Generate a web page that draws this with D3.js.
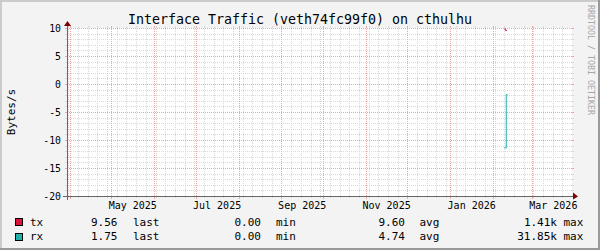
<!DOCTYPE html>
<html><head><meta charset="utf-8">
<script src="https://cdn.jsdelivr.net/npm/d3@7"></script>
<style>
html,body{margin:0;padding:0;background:#f3f3f3}
svg{display:block}
text{font-family:"DejaVu Sans Mono",monospace}
</style></head><body>
<svg id="c" width="600" height="250"></svg>
<script>
// --- data ---
const title = "Interface Traffic (veth74fc99f0) on cthulhu";
const yLabel = "Bytes/s";
const watermark = "RRDTOOL / TOBI OETIKER";
const timeRange = ["2025-03-30T00:00", "2026-03-30T00:00"];
const yRange = [-20, 10];
const yMajorStep = 5, yMinorStep = 1;
const seriesNames = ["tx", "rx"];
const seriesColors = ["#dc143c", "#20b2aa"];
const txData = [["2026-02-09T00:00", 9.82], ["2026-02-10T00:00", 9.56], ["2026-02-11T00:00", 9.56]];
const rxData = [["2026-02-09T00:00", -11.4], ["2026-02-10T12:00", -1.9], ["2026-02-11T12:00", -1.9]];
const legendLast = ["9.56", "1.75"];
const legendMin = ["0.00", "0.00"];
const legendAvg = ["9.60", "4.74"];
const legendMax = ["1.41k", "31.85k"];

const W = 600, H = 250;
const X0 = 67, X1 = 572, Y0 = 196, Y1 = 28;
const GRID = "#d8d8d8", MGRID = "#eea6a6", AXIS = "#666", ARROW = "#7f0000";

const parse = d3.timeParse("%Y-%m-%dT%H:%M");
const x = d3.scaleTime().domain(timeRange.map(parse)).range([X0, X1]);
const y = d3.scaleLinear().domain(yRange).range([Y0, Y1]);
const px = v => Math.round(v) + 0.5;

const svg = d3.select("#c");

// background + shaded frame
svg.append("rect").attr("width", W).attr("height", H).attr("fill", "#f3f3f3");
svg.append("path").attr("d", `M0,0H${W}V2H2V${H}H0Z`).attr("fill", "#cbcbcb");
svg.append("path").attr("d", `M${W},0V${H}H0V${H-2}H${W-2}V0Z`).attr("fill", "#999");
svg.append("rect").attr("x", X0).attr("y", Y1).attr("width", X1 - X0).attr("height", Y0 - Y1).attr("fill", "#fff");

const g = svg.append("g").attr("shape-rendering", "crispEdges");
const [t0, t1] = x.domain();

// vertical minor (weekly) + major (monthly)
const majors = d3.timeMonth.range(d3.timeMonth.ceil(t0), t1);
const majorSet = new Set(majors.map(d => Math.round(x(d))));
d3.timeMonday.range(t0, t1).filter(d => !majorSet.has(Math.round(x(d)))).forEach(d => {
  const xx = px(x(d));
  g.append("line").attr("x1", xx).attr("x2", xx).attr("y1", Y0 + 2).attr("y2", Y0).attr("stroke", GRID);
  g.append("line").attr("x1", xx).attr("x2", xx).attr("y1", Y1 - 2).attr("y2", Y1).attr("stroke", GRID);
  g.append("line").attr("x1", xx).attr("x2", xx).attr("y1", Y0).attr("y2", Y1).attr("stroke", GRID).attr("stroke-dasharray", "1,1");
});
// horizontal minor
d3.range(yRange[0], yRange[1] + 0.001, yMinorStep).filter(v => v % yMajorStep !== 0).forEach(v => {
  const yy = px(y(v));
  g.append("line").attr("x1", X0 - 2).attr("x2", X0).attr("y1", yy).attr("y2", yy).attr("stroke", GRID);
  g.append("line").attr("x1", X1).attr("x2", X1 + 2).attr("y1", yy).attr("y2", yy).attr("stroke", GRID);
  g.append("line").attr("x1", X0).attr("x2", X1).attr("y1", yy).attr("y2", yy).attr("stroke", GRID).attr("stroke-dasharray", "1,1");
});
// major
majors.forEach(d => {
  const xx = px(x(d));
  g.append("line").attr("x1", xx).attr("x2", xx).attr("y1", Y0 + 3).attr("y2", Y0).attr("stroke", MGRID);
  g.append("line").attr("x1", xx).attr("x2", xx).attr("y1", Y1 - 2).attr("y2", Y1).attr("stroke", MGRID);
  g.append("line").attr("x1", xx).attr("x2", xx).attr("y1", Y0).attr("y2", Y1).attr("stroke", MGRID).attr("stroke-dasharray", "1,1");
});
const yMajor = d3.range(yRange[0], yRange[1] + 0.001, yMajorStep);
yMajor.forEach(v => {
  const yy = px(y(v));
  g.append("line").attr("x1", X0 - 2).attr("x2", X0).attr("y1", yy).attr("y2", yy).attr("stroke", MGRID);
  g.append("line").attr("x1", X1).attr("x2", X1 + 2).attr("y1", yy).attr("y2", yy).attr("stroke", MGRID);
  g.append("line").attr("x1", X0).attr("x2", X1).attr("y1", yy).attr("y2", yy).attr("stroke", MGRID).attr("stroke-dasharray", "1,1");
});

// y labels
svg.append("g").selectAll("text").data(yMajor).join("text")
  .attr("x", 61).attr("y", d => y(d) + 3.6).attr("text-anchor", "end")
  .attr("font-size", "9.8px").attr("fill", "#000").text(d => d);

// x labels (every 2nd month, centred mid-month)
const fmt = d3.timeFormat("%b %Y");
svg.append("g").selectAll("text").data(d3.timeMonth.every(2).range(t0, t1)).join("text")
  .attr("x", d => (x(d) + x(d3.timeMonth.offset(d, 1))) / 2).attr("y", 208.5)
  .attr("text-anchor", "middle").attr("font-size", "10px").attr("fill", "#000").text(fmt);

// series
const line = d3.line().x(d => x(parse(d[0]))).y(d => y(d[1])).curve(d3.curveStepAfter);
[txData, rxData].forEach((s, i) => {
  svg.append("path").attr("d", line(s)).attr("fill", "none")
    .attr("stroke", seriesColors[i]).attr("stroke-width", 1);
});

// axes + arrows
g.append("line").attr("x1", X0 - 4).attr("x2", X1 + 4).attr("y1", px(Y0)).attr("y2", px(Y0)).attr("stroke", AXIS);
g.append("line").attr("x1", px(X0)).attr("x2", px(X0)).attr("y1", Y0 + 4).attr("y2", Y1 - 4).attr("stroke", AXIS);
svg.append("path").attr("d", `M${X1 + 1},${Y0 - 3.5}L${X1 + 1},${Y0 + 3.5}L${X1 + 6},${Y0 + 0.5}Z`).attr("fill", ARROW);
svg.append("path").attr("d", `M${X0 - 3},${Y1 - 2}L${X0 + 4},${Y1 - 2}L${X0 + 0.5},${Y1 - 7}Z`).attr("fill", ARROW);

// title, unit, watermark
svg.append("text").attr("x", 300).attr("y", 23.5).attr("text-anchor", "middle")
  .attr("font-size", "13.3px").attr("fill", "#000").text(title);
svg.append("text").attr("transform", "translate(15,112) rotate(-90)").attr("text-anchor", "middle")
  .attr("font-size", "11px").attr("fill", "#000").text(yLabel);
svg.append("text").attr("transform", "translate(588,5) rotate(90)")
  .attr("font-size", "8.3px").attr("fill", "#a6a6a6").text(watermark);

// legend
const rows = [225.5, 240];
seriesNames.forEach((name, i) => {
  const ry = rows[i];
  svg.append("rect").attr("x", 15.5).attr("y", ry - 7).attr("width", 7).attr("height", 7)
    .attr("fill", seriesColors[i]).attr("stroke", "#000").attr("shape-rendering", "crispEdges");
  const t = (xx, s, anchor) => svg.append("text").attr("x", xx).attr("y", ry)
    .attr("text-anchor", anchor).attr("font-size", "11px").attr("fill", "#000").text(s);
  t(30, name, "start");
  t(117.5, legendLast[i], "end"); t(133, "last", "start");
  t(261, legendMin[i], "end"); t(276, "min", "start");
  t(405, legendAvg[i], "end"); t(419.5, "avg", "start");
  t(557, legendMax[i], "end"); t(563.5, "max", "start");
});
</script>
</body></html>
